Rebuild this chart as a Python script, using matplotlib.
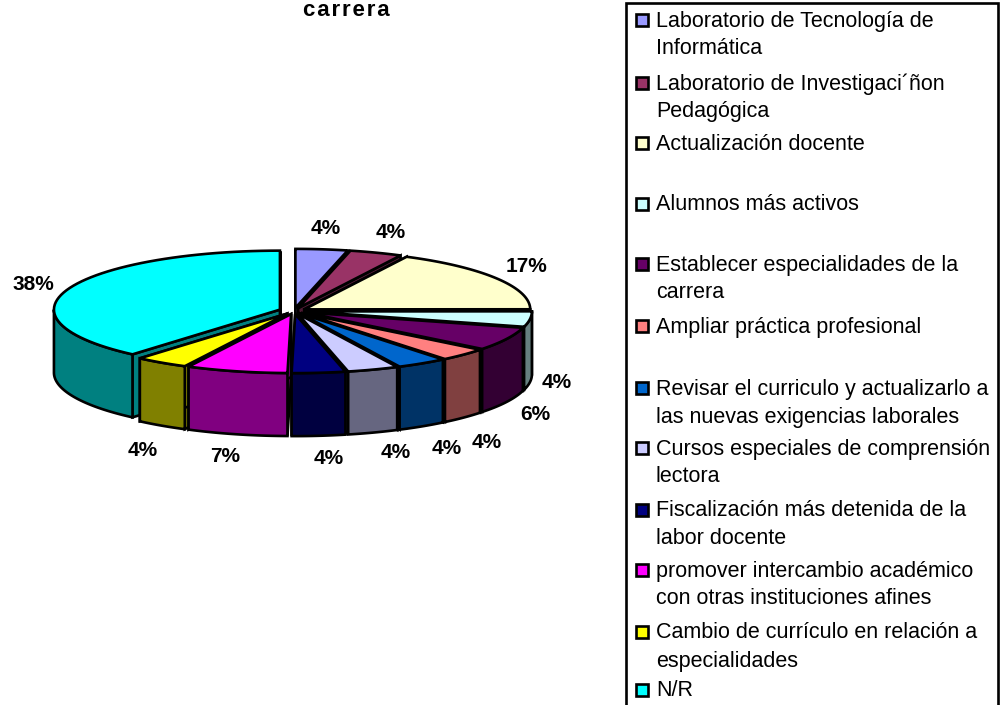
#! /usr/bin/env python3

import numpy as np
import matplotlib
matplotlib.use("Agg")
import matplotlib.pyplot as plt
from matplotlib.colors import to_rgb
from matplotlib.patches import Polygon, Rectangle

#values, the shown labels are rounded
values = [3.7, 3.75, 17.4, 4.2, 6.4, 3.5, 3.6, 3.65, 3.8, 7.2, 3.8, 38.49]
pct_labels = ["4%", "4%", "17%", "4%", "6%", "4%", "4%", "4%", "4%", "7%", "4%", "38%"]
colors = ["#9999FF", "#993366", "#FFFFCC", "#CCFFFF", "#660066", "#FF8080",
          "#0066CC", "#CCCCFF", "#000080", "#FF00FF", "#FFFF00", "#00FFFF"]
legend_labels = [
    "Laboratorio de Tecnología de\nInformática",
    "Laboratorio de Investigaci´ñon\nPedagógica",
    "Actualización docente",
    "Alumnos más activos",
    "Establecer especialidades de la\ncarrera",
    "Ampliar práctica profesional",
    "Revisar el curriculo y actualizarlo a\nlas nuevas exigencias laborales",
    "Cursos especiales de comprensión\nlectora",
    "Fiscalización más detenida de la\nlabor docente",
    "promover intercambio académico\ncon otras instituciones afines",
    "Cambio de currículo en relación a\nespecialidades",
    "N/R",
]
title = "c\u200aa\u200ar\u200ar\u200ae\u200ar\u200aa"

#layout, in pixels of the picture
W, H = 1004, 705
CX, CY = 294, 311
RX, RY = 226, 59
DEPTH = 63
EXPLODE = [12] * 11 + [15]
LABEL_XY = [(326, 229), (391, 232), (527, 267), (557, 383), (535, 414), (487, 442),
            (447, 448), (396, 453), (329, 458), (225, 456), (143, 450), (33, 284)]
LEGEND_Y = [21, 84, 144, 205, 265, 327, 389, 449, 511, 571, 633, 691]
LINE_H = 28
FONT = "Liberation Sans"
LW = 1.9


def darker(color):
    return tuple(c * 0.5 for c in to_rgb(color))


def rim(cx, cy, a):
    return np.column_stack([cx + RX * np.sin(a), cy - RY * np.cos(a)])


fig = plt.figure(figsize=(W / 100, H / 100), dpi=100)
ax = fig.add_axes([0, 0, 1, 1])
ax.set_xlim(0, W)
ax.set_ylim(H, 0)
ax.axis("off")

#slice angles, clockwise from twelve o'clock
edges = np.concatenate([[0], np.cumsum(values)]) / sum(values) * 2 * np.pi
mids = (edges[:-1] + edges[1:]) / 2

#paint from the back of the pie to the front
for i in np.argsort(-np.cos(mids)):
    a0, a1 = edges[i], edges[i + 1]
    cx = CX + EXPLODE[i] * np.sin(mids[i])
    cy = CY - EXPLODE[i] * np.cos(mids[i]) * RY / RX
    arc = rim(cx, cy, np.linspace(a0, a1, 60))
    apex = np.array([[cx, cy]])
    down = np.array([0, DEPTH])
    side = darker(colors[i])

    #the two cut faces
    for p in (arc[0], arc[-1]):
        face = np.vstack([apex, [p], [p + down], apex + down])
        ax.add_patch(Polygon(face, fc=side, ec="black", lw=LW, joinstyle="miter"))

    #outer wall, only the part that faces the viewer
    front = np.linspace(max(a0, np.pi / 2), min(a1, 3 * np.pi / 2), 60)
    if front[0] < front[-1]:
        wall = rim(cx, cy, front)
        ax.add_patch(Polygon(np.vstack([wall, (wall + down)[::-1]]), fc=side, ec="black",
                             lw=LW, joinstyle="miter"))

    ax.add_patch(Polygon(np.vstack([apex, arc]), fc=colors[i], ec="black", lw=LW, joinstyle="miter"))

for (x, y), s in zip(LABEL_XY, pct_labels):
    ax.text(x, y, s, ha="center", va="center", family=FONT, fontweight="bold", fontsize=15)

ax.text(346, 11, title, ha="center", va="center", family=FONT, fontweight="bold", fontsize=16)

#legend box runs off the bottom of the picture
ax.add_patch(Rectangle((626, 3), 372, 720, fc="white", ec="black", lw=LW, clip_on=True))
for y, s, c in zip(LEGEND_Y, legend_labels, colors):
    ax.add_patch(Rectangle((636, y - 7), 12, 12, fc=c, ec="black", lw=LW))
    for n, line in enumerate(s.split("\n")):
        ax.text(656, y + n * LINE_H, line, ha="left", va="center", family=FONT, fontsize=15.5)

fig.savefig("out.png", dpi=100)
